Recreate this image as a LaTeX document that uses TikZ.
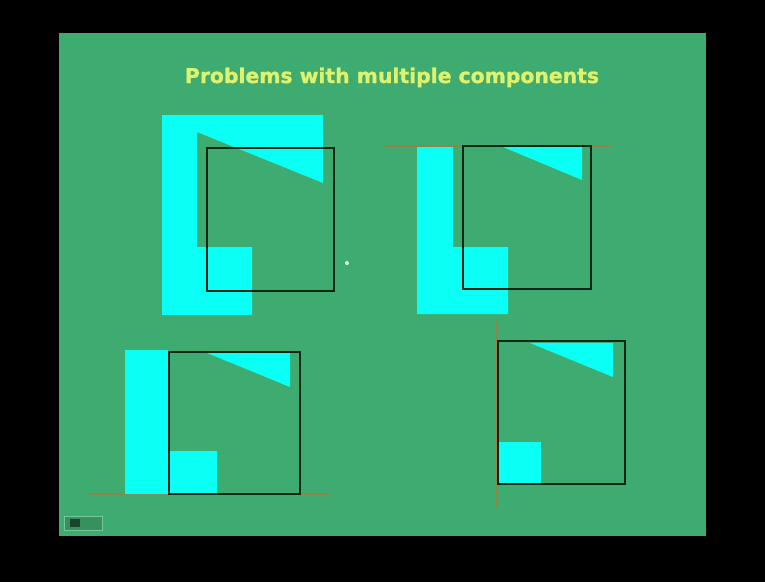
\documentclass[tikz,border=0pt]{standalone}
\usepackage{fontspec}
\newfontfamily\titlefont{DejaVu Sans}[BoldFeatures={FakeBold=1.2}]
\definecolor{slidegreen}{RGB}{62,172,112}
\definecolor{cyanfill}{RGB}{10,255,245}
\definecolor{titleyellow}{RGB}{222,242,110}
\definecolor{orangeline}{RGB}{170,120,60}
\definecolor{boxline}{RGB}{12,40,22}
\tikzset{
  cyanshape/.style={fill=cyanfill, draw=none},
  clipbox/.style={draw=boxline, line width=2.6pt},
  edgeline/.style={draw=orangeline, line width=1.4pt, opacity=0.8},
}
\begin{document}
\begin{tikzpicture}[x=1pt,y=-1pt]
\useasboundingbox (0,0) rectangle (765,582);
\fill[black] (0,0) rectangle (765,582);
\fill[slidegreen] (59,33) rectangle (706,536);
% title
\node[text=titleyellow, anchor=base, inner sep=0pt] (title) at (392,83)
  {\resizebox{414pt}{!}{\titlefont\bfseries\fontsize{22}{24}\selectfont Problems with multiple components}};
% small icon
\draw[draw=slidegreen!70!white, fill=slidegreen!85!black, line width=0.8pt] (64,516) rectangle (102,530);
\fill[slidegreen!40!black] (70,519) rectangle (80,527);
% ---- figure 1
\fill[cyanshape] (162,115) -- (323,115) -- (323,183) -- (197,132) -- (197,247) -- (252,247) -- (252,315) -- (162,315) -- cycle;
\draw[clipbox] (207,148) rectangle (334,291);
\fill[white!85!slidegreen] (347,263) circle (2pt);
% ---- figure 2
\draw[edgeline] (385,146) -- (612,146);
\fill[cyanshape] (417,147) -- (453,147) -- (453,247) -- (508,247) -- (508,314) -- (417,314) -- cycle;
\fill[cyanshape] (503,147) -- (582,147) -- (582,180) -- cycle;
\draw[clipbox] (463,146) rectangle (591,289);
% ---- figure 3
\draw[edgeline] (90,494) -- (330,494);
\fill[cyanshape] (125,350) -- (168,350) -- (168,451) -- (217,451) -- (217,494) -- (125,494) -- cycle;
\fill[cyanshape] (207,353) -- (290,353) -- (290,387) -- cycle;
\draw[clipbox] (169,352) rectangle (300,494);
% ---- figure 4
\draw[edgeline] (497,322) -- (497,508);
\fill[cyanshape] (498,442) rectangle (541,484);
\fill[cyanshape] (530,343) -- (613,343) -- (613,377) -- cycle;
\draw[clipbox] (498,341) rectangle (625,484);
\end{tikzpicture}
\end{document}
